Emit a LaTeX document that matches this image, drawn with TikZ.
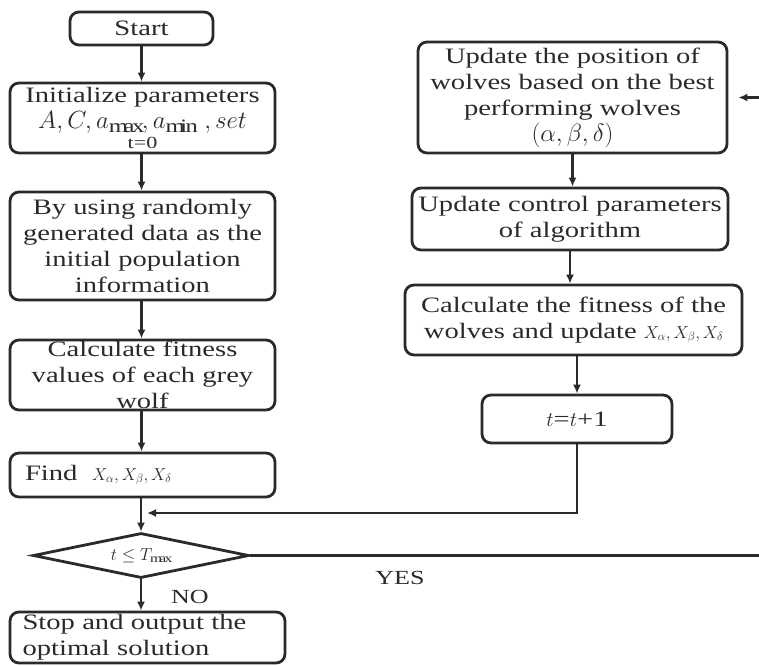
\documentclass[tikz,border=0pt]{standalone}
\usepackage{fontspec}
\setmainfont[FakeStretch=1.3]{Liberation Serif}
\usetikzlibrary{arrows.meta,shapes.geometric}
\definecolor{lc}{HTML}{2A2A2A}
\definecolor{tc}{HTML}{2A2A2A}
\tikzset{
  box/.style={draw=lc, line width=2.8pt, rounded corners=9pt, align=center, inner sep=0pt, text=tc,
    font=\fontsize{22}{26}\selectfont},
  flow/.style={draw=lc, line width=2.8pt, -{Latex[length=9pt,width=8pt]}},
  lbl/.style={text=tc, font=\fontsize{20}{24}\selectfont, inner sep=0pt}
}
\newcommand{\sm}{\fontsize{17}{20}\selectfont}
\newcommand{\bg}{\fontsize{27}{26}\selectfont}
\begin{document}
\begin{tikzpicture}[x=1pt,y=-1pt]
\useasboundingbox (0,0) rectangle (759,665);
\clip (0,0) rectangle (759,665);
\fill[white] (0,0) rectangle (759,665);
% left column
\node[box, minimum width=143pt, minimum height=33pt] (start) at (141.5,28.5) {Start};
\node[box, minimum width=265pt, minimum height=70pt] (init) at (142.5,118) {Initialize parameters\\ {\bg$A,C,a_{\max},a_{\min}\ ,set$}\\[-6pt] {\sm t=0}};
\node[box, minimum width=265pt, minimum height=108pt] (rand) at (142.5,246) {By using randomly\\ generated data as the\\ initial population\\ information};
\node[box, minimum width=265pt, minimum height=70pt] (fit) at (142.5,375) {Calculate fitness\\ values of each grey\\ wolf};
\node[box, minimum width=265pt, minimum height=44pt, align=left, text width=235pt] (find) at (142.5,475) {Find \ {\sm$X_\alpha, X_\beta, X_\delta$}};
\node[diamond, draw=lc, line width=2.8pt, minimum width=216pt, minimum height=45pt, inner sep=0pt, aspect=4.8, text=tc] (cond) at (141,555.5) {\sm$t \le T_{\max}$};
\node[box, minimum width=275pt, minimum height=51pt, align=left, text width=250pt] (stop) at (147.5,637.5) {Stop and output the\\ optimal solution};
% right column
\node[box, minimum width=309pt, minimum height=111pt] (upd) at (572.5,97.5) {Update the position of\\ wolves based on the best\\ performing wolves\\ {\bg$(\alpha,\beta,\delta)$}};
\node[box, minimum width=316pt, minimum height=62pt] (ctrl) at (570,219) {Update control parameters\\ of algorithm};
\node[box, minimum width=337pt, minimum height=70pt] (calc) at (573.5,320) {Calculate the fitness of the\\ wolves and update {\sm$X_\alpha, X_\beta, X_\delta$}};
\node[box, minimum width=190pt, minimum height=48pt] (tinc) at (577,419) {$t$=$t$+1};
% connectors left
\draw[flow] (start.south) -- (start.south |- init.north);
\draw[flow] (init.south -| start.south) -- (start.south |- rand.north);
\draw[flow] (rand.south -| start.south) -- (start.south |- fit.north);
\draw[flow] (fit.south -| start.south) -- (start.south |- find.north);
\draw[flow] (find.south -| cond.north) -- (cond.north);
\draw[flow] (cond.south) -- (cond.south |- stop.north);
\node[lbl] (no) at (190,597) {NO};
% connectors right
\draw[flow] (upd.south) -- (upd.south |- ctrl.north);
\draw[flow] (ctrl.south) -- (ctrl.south |- calc.north);
\draw[flow] (calc.south -| tinc.south) -- (tinc.north);
\coordinate (merge) at (147,513);
\draw[flow] (tinc.south) -- (tinc.south |- merge) -- (merge);
\coordinate (rc) at (775,556);
\draw[flow, shorten >=10pt] (cond.east) -- (cond.east -| rc) -- (rc |- upd.east) -- (upd.east);
\node[lbl] (yes) at (400,578) {YES};
\end{tikzpicture}
\end{document}
